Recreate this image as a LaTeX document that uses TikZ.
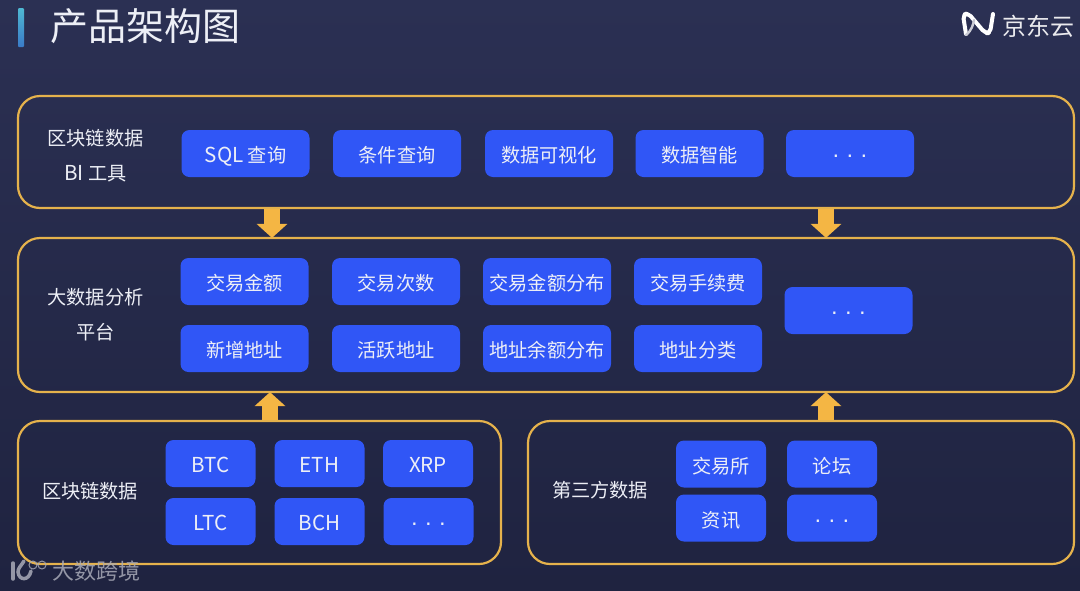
\documentclass[tikz,border=0pt]{standalone}
\usepackage{fontspec}
\setmainfont{Noto Sans CJK SC}
\newfontfamily\dotfont{Liberation Sans}
\usetikzlibrary{arrows.meta}
\definecolor{bgtop}{HTML}{2B3053}
\definecolor{bgbot}{HTML}{1F2340}
\definecolor{gold}{HTML}{E5B24C}
\definecolor{arrowgold}{HTML}{F4B644}
\definecolor{chipblue}{HTML}{3056F6}
\definecolor{txt}{HTML}{EDEFF6}
\definecolor{wm}{HTML}{A9ABB8}
\definecolor{barA}{HTML}{4FB8D2}
\definecolor{barB}{HTML}{3A7BC8}
\newcommand{\lat}[1]{{\fontsize{20.6}{22}\selectfont #1}}
\newcommand{\chipdots}{{\dotfont\fontsize{23}{24}\selectfont · · ·}}
\tikzset{
  panel/.style={draw=gold,line width=2.2pt,rounded corners=22pt,inner sep=0pt},
  chip/.style={fill=chipblue,rounded corners=8pt,text=txt,font=\fontsize{19.2}{21}\selectfont,inner sep=0pt,minimum height=47pt,minimum width=128pt,text height=18pt,text depth=0pt},
  small/.style={chip,minimum width=90pt},
  lab/.style={text=txt,font=\fontsize{19.2}{35}\selectfont,align=center,inner sep=0pt},
  flow/.style={draw=arrowgold,line width=16pt,-{Triangle[width=30pt,length=14pt,fill=arrowgold]},shorten >=-1pt},
}
\begin{document}
\begin{tikzpicture}[x=1pt,y=-1pt]
\useasboundingbox (0,0) rectangle (1080,590);
\shade[top color=bgtop,bottom color=bgbot] (0,0) rectangle (1080,590);
% title
\shade[top color=barA,bottom color=barB,rounded corners=1pt] (18,8) rectangle (24,47);
\node[anchor=west,text=txt,font=\fontsize{38}{40}\selectfont,inner sep=0pt] (title) at (50,26) {产品架构图};
% logo
\draw[white,line width=4pt,line cap=round,line join=round,rounded corners=4pt] (966,34) -- (963,15) -- (968,13) -- (985,33) -- (990,33) -- (993,14);
\draw[white!75!bgtop,line width=2.4pt,line cap=round] (966,35) .. controls (972,30) and (973,25) .. (974,20);
\node[anchor=west,text=white!90!bgtop,font=\fontsize{24}{26}\selectfont,inner sep=0pt] (brand) at (1002,26) {京东云};
% panels
\node[panel,minimum width=1056pt,minimum height=112pt] (p1) at (546,152) {};
\node[panel,minimum width=1056pt,minimum height=154pt] (p2) at (546,315) {};
\node[panel,minimum width=483pt,minimum height=143pt] (p3) at (259.5,492.5) {};
\node[panel,minimum width=546pt,minimum height=143pt] (p4) at (801,492.5) {};
% panel labels
\node[lab] (l1) at (95.5,156) {区块链数据\\\lat{BI} 工具};
\node[lab] (l2) at (95.5,315) {大数据分析\\平台};
\node[lab] (l3) at (90,491) {区块链数据};
\node[lab] (l4) at (600,490) {第三方数据};
% row 1
\node[chip] (a1) at (245.5,153.5) {\lat{SQL} 查询};
\node[chip] (a2) at (397,153.5) {条件查询};
\node[chip] (a3) at (549,153.5) {数据可视化};
\node[chip] (a4) at (699.5,153.5) {数据智能};
\node[chip] (a5) at (850,153.5) {\chipdots};
% platform
\node[chip] (b1) at (244.5,281.5) {交易金额};
\node[chip] (b2) at (396,281.5) {交易次数};
\node[chip] (b3) at (547,281.5) {交易金额分布};
\node[chip] (b4) at (698,281.5) {交易手续费};
\node[chip] (c1) at (244.5,348.5) {新增地址};
\node[chip] (c2) at (396,348.5) {活跃地址};
\node[chip] (c3) at (547,348.5) {地址余额分布};
\node[chip] (c4) at (698,348.5) {地址分类};
\node[chip] (b5) at (848.5,310.5) {\chipdots};
% chain data
\node[small] (d1) at (210.5,463.5) {\lat{BTC}};
\node[small] (d2) at (319.5,463.5) {\lat{ETH}};
\node[small] (d3) at (428,463.5) {\lat{XRP}};
\node[small] (e1) at (210.5,521.5) {\lat{LTC}};
\node[small] (e2) at (319.5,521.5) {\lat{BCH}};
\node[small] (e3) at (428.5,521.5) {\chipdots};
% third party
\node[small] (f1) at (721,464) {交易所};
\node[small] (f2) at (832,464) {论坛};
\node[small] (g1) at (721,518) {资讯};
\node[small] (g2) at (832,518) {\chipdots};
% arrows
\coordinate (ax1) at (272,0);
\coordinate (ax2) at (826,0);
\coordinate (ax3) at (270,0);
\draw[flow] (ax1 |- p1.south) -- (ax1 |- p2.north);
\draw[flow] (ax2 |- p1.south) -- (ax2 |- p2.north);
\draw[flow] (ax3 |- p3.north) -- (ax3 |- p2.south);
\draw[flow] (ax2 |- p4.north) -- (ax2 |- p2.south);
% watermark
\begin{scope}[opacity=.85]
\draw[wm,line width=3.5pt,line cap=round] (13,563) -- (13,579);
\draw[wm,line width=3.5pt,line cap=round] (31,571) .. controls (29,581) and (19,581) .. (18,572) .. controls (18,568) and (21,566) .. (24,561);
\draw[wm,line width=1pt] (33,565) circle (4pt);
\draw[wm,line width=1pt] (42,565) circle (4pt);
\node[anchor=west,text=wm,font=\fontsize{22}{24}\selectfont,inner sep=0pt] (mark) at (52,571) {大数跨境};
\end{scope}
\end{tikzpicture}
\end{document}
